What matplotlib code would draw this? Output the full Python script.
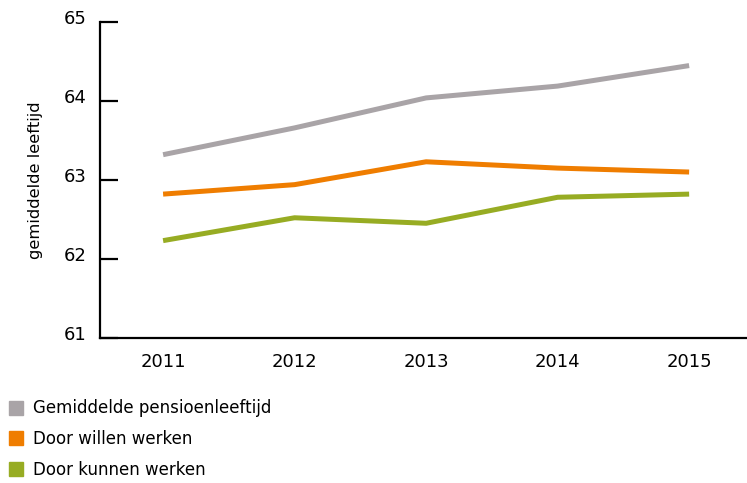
import matplotlib
matplotlib.use("Agg")
import matplotlib.pyplot as plt
from matplotlib.lines import Line2D
from matplotlib.transforms import ScaledTranslation

# ── data ────────────────────────────────────────────────────────────────
years = ["2011", "2012", "2013", "2014", "2015"]
pensioen = [63.32, 63.66, 64.04, 64.19, 64.45]
willen   = [62.82, 62.94, 63.23, 63.15, 63.10]
kunnen   = [62.23, 62.52, 62.45, 62.78, 62.82]

labels = ["Gemiddelde pensioenleeftijd", "Door willen werken", "Door kunnen werken"]
colors = ["#A9A4A7", "#EF7D00", "#97AC23"]

plt.rcParams["font.family"] = ["DejaVu Sans"]

fig = plt.figure(figsize=(7.47, 4.83), dpi=100)
ax = fig.add_axes([0.134, 0.301, 0.866, 0.653])

x = list(range(len(years)))
for vals, c in zip([pensioen, willen, kunnen], colors):
    ax.plot(x, vals, color=c, lw=3.6, solid_capstyle="butt", solid_joinstyle="round")

ax.set_xlim(-0.479, 4.44)
ax.set_ylim(61, 65)
ax.set_yticks([61, 62, 63, 64, 65])
ax.set_xticks(x)
ax.set_xticklabels(years)

for s in ["top", "right"]:
    ax.spines[s].set_visible(False)
for s in ["left", "bottom"]:
    ax.spines[s].set_linewidth(1.6)

ax.tick_params(axis="y", direction="in", length=13, width=1.6, pad=10, labelsize=13)
ax.tick_params(axis="x", length=0, pad=11, labelsize=13)
shift = ScaledTranslation(0, 5 / 100, fig.dpi_scale_trans)
for t in ax.get_yticklabels():
    t.set_transform(t.get_transform() + shift)
ax.set_ylabel("gemiddelde leeftijd", fontsize=11.8, labelpad=15)

# ── legend ──────────────────────────────────────────────────────────────
handles = [Line2D([], [], ls="none", marker="s", markersize=10, color=c) for c in colors]
fig.legend(handles, labels, loc="upper left", bbox_to_anchor=(0.004, 0.187),
           frameon=False, fontsize=12, handlelength=0.8, handletextpad=0.6,
           labelspacing=0.76, borderaxespad=0.0)

fig.savefig("out.png", dpi=100)
